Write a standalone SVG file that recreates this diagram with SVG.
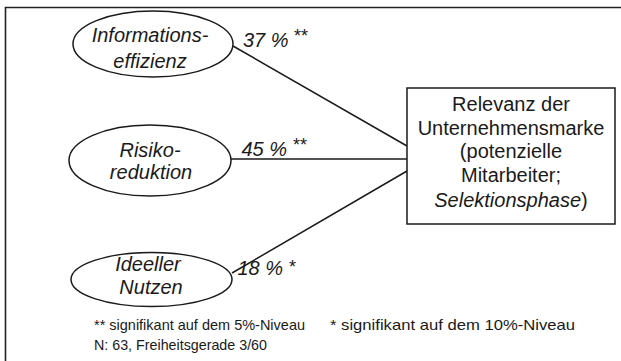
<svg xmlns="http://www.w3.org/2000/svg" width="621" height="361" viewBox="0 0 621 361">
  <style>
    .frame { fill: none; stroke: #222; stroke-width: 1.6; }
    .node { fill: #fff; stroke: #1a1a1a; stroke-width: 1.5; }
    .edge { fill: none; stroke: #1a1a1a; stroke-width: 1.5; }
    text { font-family: "Liberation Sans", Arial, sans-serif; fill: #1a1a1a; }
    .lbl { font-size: 20px; font-style: italic; text-anchor: middle; }
    .box { font-size: 20px; text-anchor: middle; }
    .pct { font-size: 20px; font-style: italic; }
    .sig { font-size: 18px; }
    .note { font-size: 14.5px; }
  </style>

  <!-- outer frame (left and top edges) -->
  <path class="frame" d="M5.5,361 V7.5 H621"/>

  <!-- path coefficients -->
  <g id="connectors">
    <line class="edge" x1="233" y1="46" x2="407" y2="146"/>
    <line class="edge" x1="231" y1="159" x2="407" y2="159"/>
    <line class="edge" x1="232" y1="273" x2="407" y2="171"/>
    <text class="pct" x="243" y="46.5">37 %</text>
    <text class="sig" x="294" y="42">**</text>
    <text class="pct" x="241.5" y="155.5">45 %</text>
    <text class="sig" x="293" y="151">**</text>
    <text class="pct" x="237.5" y="275">18 %</text>
    <text class="sig" x="289" y="273">*</text>
  </g>

  <g id="informationseffizienz">
    <ellipse class="node" cx="153" cy="44" rx="80" ry="33"/>
    <text class="lbl" x="150" y="42">Informations-</text>
    <text class="lbl" x="150" y="68">effizienz</text>
  </g>

  <g id="risikoreduktion">
    <ellipse class="node" cx="150" cy="160.5" rx="81" ry="35.5"/>
    <text class="lbl" x="150" y="156.5">Risiko-</text>
    <text class="lbl" x="151" y="179">reduktion</text>
  </g>

  <g id="ideeller-nutzen">
    <ellipse class="node" cx="151.5" cy="279.5" rx="80.5" ry="27"/>
    <text class="lbl" x="148" y="270.5">Ideeller</text>
    <text class="lbl" x="151" y="294">Nutzen</text>
  </g>

  <g id="relevanz">
    <rect class="node" x="407" y="88" width="208" height="136"/>
    <text class="box" x="511" y="111">Relevanz der</text>
    <text class="box" x="511" y="134.5">Unternehmensmarke</text>
    <text class="box" x="511" y="158">(potenzielle</text>
    <text class="box" x="511" y="182">Mitarbeiter;</text>
    <text class="box" x="511" y="207"><tspan font-style="italic">Selektionsphase</tspan>)</text>
  </g>

  <g id="legend">
    <text class="note" x="94" y="330" textLength="211" lengthAdjust="spacingAndGlyphs">** signifikant auf dem 5%-Niveau</text>
    <text class="note" x="330" y="330" textLength="245" lengthAdjust="spacingAndGlyphs">* signifikant auf dem 10%-Niveau</text>
    <text class="note" x="94" y="350" textLength="173" lengthAdjust="spacingAndGlyphs">N: 63, Freiheitsgerade 3/60</text>
  </g>
</svg>
